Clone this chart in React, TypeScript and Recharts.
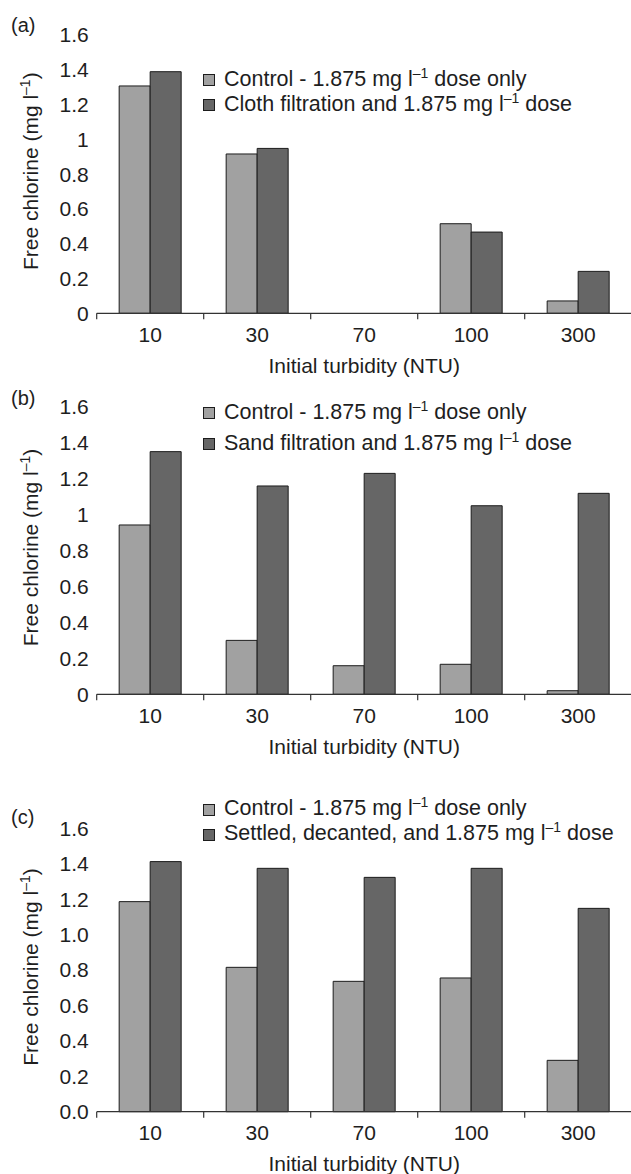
import React from "react";
import { BarChart, Bar, XAxis, YAxis, Legend, Label } from "recharts";

const categories = ["10", "30", "70", "100", "300"];
const controlA = [1.307, 0.916, 0, 0.515, 0.071];
const clothA = [1.389, 0.948, 0, 0.467, 0.241];
const controlB = [0.942, 0.3, 0.159, 0.167, 0.02];
const sandB = [1.35, 1.159, 1.229, 1.049, 1.118];
const controlC = [1.186, 0.815, 0.736, 0.755, 0.29];
const settledC = [1.412, 1.374, 1.323, 1.374, 1.148];
const yTicks = [0, 0.2, 0.4, 0.6, 0.8, 1, 1.2, 1.4, 1.6];
const legendA = [["Control - 1.875 mg l", "–1", " dose only"], ["Cloth filtration and 1.875 mg l", "–1", " dose"]];
const legendB = [["Control - 1.875 mg l", "–1", " dose only"], ["Sand filtration and 1.875 mg l", "–1", " dose"]];
const legendC = [["Control - 1.875 mg l", "–1", " dose only"], ["Settled, decanted, and 1.875 mg l", "–1", " dose"]];

const FONT = '"Liberation Sans", Arial, Helvetica, sans-serif';
const FS = 21;
const LFS = 21.5;
const TXT = "#1e1e1e";
const LIGHT = "#a1a1a1";
const DARK = "#666666";
const EDGE = "#1c1c1c";

const build = (a: number[], b: number[]) =>
  categories.map((c, i) => ({ cat: c, control: a[i], treated: b[i] }));

const XTick = (props: any) => {
  const { x, y, payload, index, width, visibleTicksCount } = props;
  const n = visibleTicksCount || categories.length;
  const half = width / n / 2;
  const axisY = y - 8;
  return (
    <g>
      <line x1={x - half} x2={x - half} y1={axisY} y2={axisY + 6} stroke="#333" strokeWidth={1.2} />
      {index === n - 1 && (
        <line x1={x + half} x2={x + half} y1={axisY} y2={axisY + 6} stroke="#333" strokeWidth={1.2} />
      )}
      <text x={x} y={axisY + 21} dy="0.35em" textAnchor="middle" fontSize={FS} fontFamily={FONT} fill={TXT}>
        {payload.value}
      </text>
    </g>
  );
};

const YLabel = (props: any) => {
  const { viewBox } = props;
  const bx = 38.3;
  const cy = viewBox.y + viewBox.height / 2 - 3;
  return (
    <text x={bx} y={cy} transform={`rotate(-90 ${bx} ${cy})`} textAnchor="middle" fontSize={FS} fontFamily={FONT} fill={TXT}>
      Free chlorine (mg l
      <tspan dy={-8} fontSize={14}>–1</tspan>
      <tspan dy={8}>)</tspan>
    </text>
  );
};

const XLabel = (props: any) => {
  const { viewBox } = props;
  const cx = viewBox.x + viewBox.width / 2;
  return (
    <text x={cx} y={viewBox.y + 52} dy="0.35em" textAnchor="middle" fontSize={FS} fontFamily={FONT} fill={TXT}>
      Initial turbidity (NTU)
    </text>
  );
};

const makeLegend = (labels: string[][], rowH: number) => (props: any) => {
  const payload = props.payload || [];
  return (
    <div style={{ fontFamily: FONT, fontSize: LFS, color: TXT }}>
      {payload.map((p: any, i: number) => (
        <div key={i} style={{ height: rowH, lineHeight: `${rowH}px`, whiteSpace: "nowrap", display: "flex", alignItems: "center" }}>
          <span style={{ display: "inline-block", width: 10, height: 10, background: p.color, border: `1px solid ${EDGE}`, marginRight: 9 }} />
          <span>
            {labels[i][0]}
            <span style={{ fontSize: 14, position: "relative", top: -8 }}>{labels[i][1]}</span>
            {labels[i][2]}
          </span>
        </div>
      ))}
    </div>
  );
};

type PanelProps = {
  top: number;
  height: number;
  mTop: number;
  mBottom: number;
  data: any[];
  legend: string[][];
  legendTop: number;
  rowH: number;
  letter: string;
  letterY: number;
  fixed: boolean;
};

const Panel = (p: PanelProps) => (
  <div style={{ position: "absolute", left: 0, top: p.top, width: 640, height: p.height }}>
    <BarChart
      width={640}
      height={p.height}
      data={p.data}
      margin={{ top: p.mTop, right: 8.3, bottom: p.mBottom, left: 36.7 }}
      barCategoryGap="21%"
      barGap={0}
    >
      <XAxis
        dataKey="cat"
        height={30}
        axisLine={{ stroke: "#333", strokeWidth: 1.2 }}
        tickLine={false}
        tick={<XTick />}
        interval={0}
      >
        <Label content={<XLabel />} />
      </XAxis>
      <YAxis
        width={60}
        domain={[0, 1.6]}
        ticks={yTicks}
        axisLine={false}
        tickLine={false}
        interval={0}
        tick={{ fontSize: FS, fontFamily: FONT, fill: TXT }}
        tickFormatter={(v: number) => (p.fixed ? v.toFixed(1) : String(v))}
      >
        <Label content={<YLabel />} />
      </YAxis>
      <Legend
        layout="vertical"
        align="center"
        verticalAlign="middle"
        wrapperStyle={{ position: "absolute", left: 203, top: p.legendTop, width: "auto" }}
        content={makeLegend(p.legend, p.rowH)}
      />
      <Bar dataKey="control" fill={LIGHT} stroke={EDGE} strokeWidth={1} isAnimationActive={false} />
      <Bar dataKey="treated" fill={DARK} stroke={EDGE} strokeWidth={1} isAnimationActive={false} />
    </BarChart>
    <div style={{ position: "absolute", left: 11, top: p.letterY - 12, fontFamily: FONT, fontSize: 20, color: TXT, lineHeight: "24px" }}>
      {p.letter}
    </div>
  </div>
);

export default function App() {
  return (
    <div style={{ position: "absolute", left: 0, top: 0, width: 631, height: 1174, overflow: "hidden", background: "#fff" }}>
      <Panel top={0} height={390} mTop={35} mBottom={46.7} data={build(controlA, clothA)} legend={legendA} legendTop={67.5} rowH={25} letter="(a)" letterY={25} fixed={false} />
      <Panel top={380} height={390} mTop={26.7} mBottom={45.7} data={build(controlB, sandB)} legend={legendB} legendTop={17.9} rowH={30.7} letter="(b)" letterY={18.3} fixed={false} />
      <Panel top={774} height={400} mTop={54.3} mBottom={32.3} data={build(controlC, settledC)} legend={legendC} legendTop={23} rowH={25.3} letter="(c)" letterY={43.3} fixed={true} />
    </div>
  );
}
